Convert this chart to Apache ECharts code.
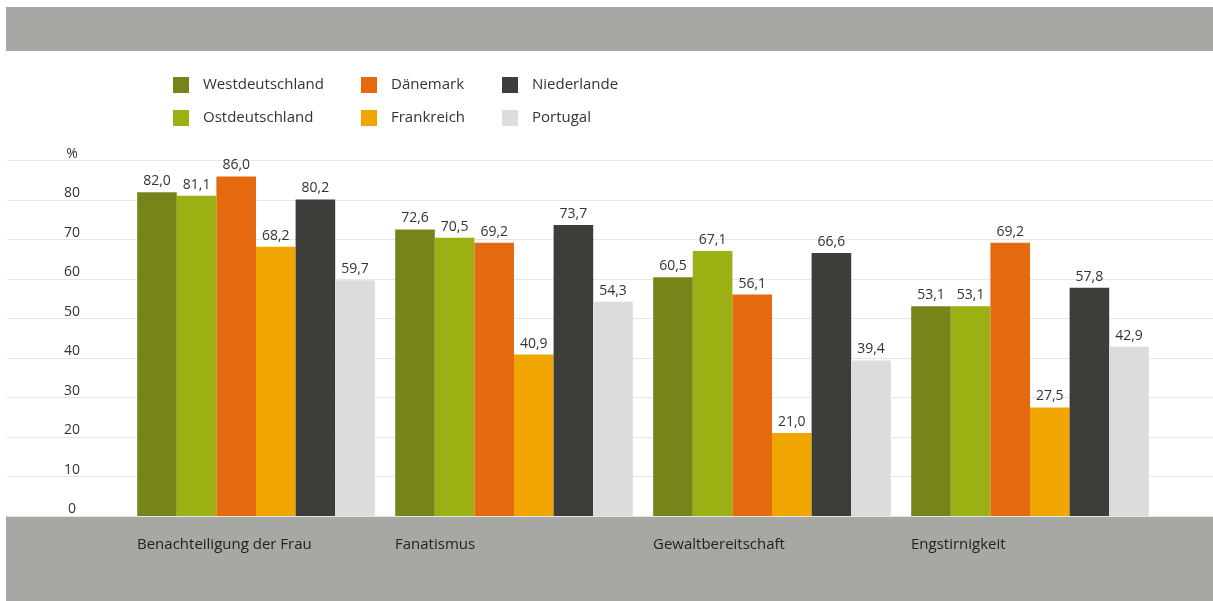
<!DOCTYPE html>
<html>
<head>
<meta charset="utf-8">
<script src="https://cdn.jsdelivr.net/npm/echarts@6/dist/echarts.min.js"></script>
<style>
html,body{margin:0;padding:0;background:#fff;}
#chart{width:1213px;height:601px;}
</style>
</head>
<body>
<div id="chart"></div>
<script>
const categories = ['Benachteiligung der Frau', 'Fanatismus', 'Gewaltbereitschaft', 'Engstirnigkeit'];
const seriesNames = ['Westdeutschland', 'Ostdeutschland', 'Dänemark', 'Frankreich', 'Niederlande', 'Portugal'];
const westdeutschland = [82.0, 72.6, 60.5, 53.1];
const ostdeutschland = [81.1, 70.5, 67.1, 53.1];
const daenemark = [86.0, 69.2, 56.1, 69.2];
const frankreich = [68.2, 40.9, 21.0, 27.5];
const niederlande = [80.2, 73.7, 66.6, 57.8];
const portugal = [59.7, 54.3, 39.4, 42.9];
const yTicks = [0, 10, 20, 30, 40, 50, 60, 70, 80, 90];
const yUnit = '%';

const colors = ['#76841a', '#9caf13', '#e5690f', '#f0a500', '#3d3e39', '#dcdcdc'];
const allValues = [westdeutschland, ostdeutschland, daenemark, frankreich, niederlande, portugal];
const FONT = '"Open Sans", "Noto Sans", sans-serif';

const chart = echarts.init(document.getElementById('chart'), null, {renderer: 'canvas'});

const series = seriesNames.map((name, i) => ({
  name: name,
  type: 'bar',
  xAxisIndex: 0,
  yAxisIndex: 0,
  data: allValues[i],
  barGap: '0%',
  barCategoryGap: '7.9%',
  itemStyle: {color: colors[i]},
  label: {
    show: true,
    position: 'top',
    distance: 4,
    color: '#333',
    fontFamily: FONT,
    fontSize: 14,
    formatter: p => p.value.toFixed(1).replace('.', ',')
  },
  z: 5
}));

function legendCol(names, left) {
  return {
    orient: 'vertical',
    left: left,
    top: 72,
    itemWidth: 16,
    itemHeight: 16,
    itemGap: 17,
    icon: 'rect',
    data: names,
    textStyle: {fontFamily: FONT, fontSize: 15, color: '#333', padding: [0, 0, 0, 9]},
    selectedMode: false
  };
}

chart.setOption({
  backgroundColor: '#fff',
  animation: false,
  color: colors,
  graphic: [
    {type: 'rect', shape: {x: 6, y: 7, width: 1207, height: 44}, style: {fill: '#a7a8a3'}, z: -10},
    {type: 'rect', shape: {x: 6, y: 516, width: 1207, height: 85}, style: {fill: '#a7a8a3'}, z: -10}
  ],
  legend: [
    legendCol([seriesNames[0], seriesNames[1]], 168),
    legendCol([seriesNames[2], seriesNames[3]], 356),
    legendCol([seriesNames[4], seriesNames[5]], 497)
  ],
  grid: [
    {left: 127, right: 54, top: 160.7, bottom: 85, containLabel: false},
    {left: 7, right: 0, top: 160.7, bottom: 85, containLabel: false}
  ],
  xAxis: [
    {
      type: 'category',
      gridIndex: 0,
      data: categories,
      axisLine: {show: false},
      axisTick: {show: false},
      axisLabel: {
        interval: 0,
        hideOverlap: false,
        margin: 21,
        align: 'center',
        color: '#222',
        fontFamily: FONT,
        fontSize: 15,
        formatter: v => '{a|' + v + '}',
        rich: {a: {width: 238, align: 'left', fontFamily: FONT, fontSize: 15, color: '#222'}}
      }
    },
    {
      type: 'value',
      gridIndex: 1,
      show: false
    }
  ],
  yAxis: [
    {
      type: 'value',
      gridIndex: 0,
      min: yTicks[0],
      max: yTicks[yTicks.length - 1],
      interval: yTicks[1] - yTicks[0],
      axisLine: {show: false},
      axisTick: {show: false},
      splitLine: {show: false},
      axisLabel: {
        margin: 55,
        align: 'center',
        verticalAlign: 'bottom',
        color: '#333',
        fontFamily: FONT,
        fontSize: 14,
        formatter: v => v === yTicks[yTicks.length - 1] ? yUnit : String(v)
      }
    },
    {
      type: 'value',
      gridIndex: 1,
      min: yTicks[0],
      max: yTicks[yTicks.length - 1],
      interval: yTicks[1] - yTicks[0],
      axisLine: {show: false},
      axisTick: {show: false},
      axisLabel: {show: false},
      splitLine: {show: true, lineStyle: {color: '#e6e6e6', width: 1}}
    }
  ],
  series: series
});
</script>
</body>
</html>
